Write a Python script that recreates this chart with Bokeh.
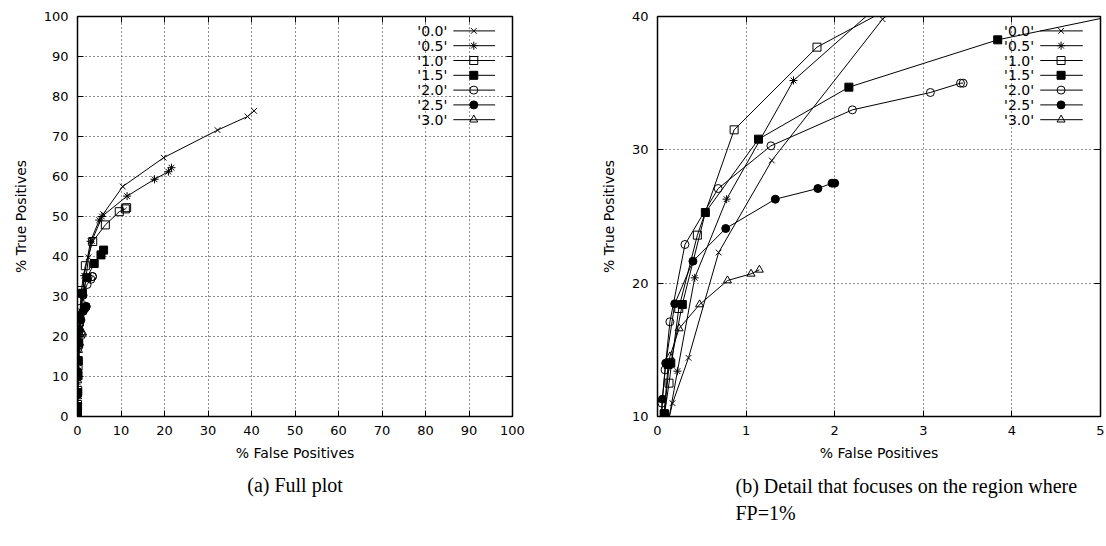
from bokeh.plotting import figure
from bokeh.layouts import row
from bokeh.models import Range1d, LinearAxis, FixedTicker, Title
from bokeh.embed import file_html
from bokeh.resources import INLINE
from bokeh.core.properties import value

# ---------------- data ----------------
series_names = ["'0.0'", "'0.5'", "'1.0'", "'1.5'", "'2.0'", "'2.5'", "'3.0'"]

fp_00 = [0.0, 0.01, 0.03, 0.08, 0.17, 0.35, 0.69, 1.29, 2.54, 3.3, 5.9, 10.4, 19.8, 32.2, 39.1, 40.6]
tp_00 = [0.5, 2.5, 5.5, 8.5, 11.0, 14.4, 22.3, 29.2, 39.8, 43.9, 50.6, 57.5, 64.7, 71.6, 75.0, 76.4]

fp_05 = [0.0, 0.02, 0.05, 0.12, 0.225, 0.42, 0.78, 1.535, 3.0, 5.0, 5.6, 11.4, 17.7, 20.9, 21.6]
tp_05 = [0.5, 2.5, 6.0, 9.5, 13.4, 20.4, 26.3, 35.2, 43.8, 49.1, 50.0, 55.1, 59.3, 61.2, 62.2]

fp_10 = [0.0, 0.01, 0.04, 0.08, 0.13, 0.24, 0.45, 0.865, 1.8, 3.5, 6.4, 9.6, 11.0, 11.3]
tp_10 = [0.5, 3.0, 6.5, 10.2, 12.5, 18.1, 23.6, 31.5, 37.7, 43.75, 47.9, 51.2, 51.9, 52.2]

fp_15 = [0.0, 0.01, 0.03, 0.075, 0.12, 0.15, 0.28, 0.54, 1.14, 2.16, 3.84, 5.4, 6.0]
tp_15 = [0.5, 2.5, 6.0, 10.2, 13.9, 14.0, 18.4, 25.3, 30.8, 34.7, 38.25, 40.4, 41.6]

fp_20 = [0.0, 0.01, 0.02, 0.05, 0.085, 0.14, 0.31, 0.685, 1.28, 2.2, 3.08, 3.42, 3.45]
tp_20 = [0.5, 2.5, 6.0, 11.0, 13.5, 17.1, 22.9, 27.1, 30.3, 33.0, 34.3, 35.0, 35.0]

fp_25 = [0.0, 0.01, 0.03, 0.056, 0.093, 0.195, 0.40, 0.77, 1.33, 1.81, 1.97, 2.0]
tp_25 = [0.5, 2.0, 5.5, 11.3, 14.0, 18.45, 21.65, 24.1, 26.3, 27.1, 27.5, 27.5]

fp_30 = [0.0, 0.01, 0.03, 0.06, 0.14, 0.244, 0.475, 0.79, 1.056, 1.15]
tp_30 = [0.5, 2.0, 5.0, 9.0, 14.5, 16.6, 18.4, 20.2, 20.7, 21.0]

full_x_ticks = [0, 10, 20, 30, 40, 50, 60, 70, 80, 90, 100]
full_y_ticks = [0, 10, 20, 30, 40, 50, 60, 70, 80, 90, 100]
detail_x_ticks = [0, 1, 2, 3, 4, 5]
detail_y_ticks = [10, 20, 30, 40]

x_label = "% False Positives"
y_label = "% True Positives"
caption_a = "(a) Full plot"
caption_b = "(b) Detail that focuses on the region where\nFP=1%"

all_fp = [fp_00, fp_05, fp_10, fp_15, fp_20, fp_25, fp_30]
all_tp = [tp_00, tp_05, tp_10, tp_15, tp_20, tp_25, tp_30]

# ---------------- styles ----------------
markers = ["x", "asterisk", "square", "square", "circle", "circle", "triangle"]
fills = [None, None, None, "black", None, "black", None]
msize = 8
TICK_FONT = "DejaVu Sans"
TICK_SIZE = "13px"
CAP_FONT = "Liberation Serif"
CAP_SIZE = "20px"


def make_fig(xr, yr, xticks, yticks, width, bl, br):
    p = figure(width=width, height=546, x_range=Range1d(*xr), y_range=Range1d(*yr),
               output_backend="svg", toolbar_location=None,
               min_border_left=bl, min_border_right=br, min_border_top=16, min_border_bottom=130,
               background_fill_color="white", border_fill_color="white")
    p.outline_line_color = "black"
    p.outline_line_width = 1.5
    xa = p.below[0]
    ya = p.left[0]
    xa.ticker = FixedTicker(ticks=xticks)
    ya.ticker = FixedTicker(ticks=yticks)
    for ax in (xa, ya):
        ax.major_tick_in = 6
        ax.major_tick_out = 0
        ax.minor_tick_line_color = None
        ax.axis_line_color = "black"
        ax.major_tick_line_color = "black"
        ax.major_label_text_font = TICK_FONT
        ax.major_label_text_font_size = TICK_SIZE
        ax.major_label_text_color = "black"
        ax.axis_label_text_font = TICK_FONT
        ax.axis_label_text_font_size = "14px"
        ax.axis_label_text_font_style = "normal"
        ax.axis_label_text_color = "black"
    xa.axis_label = x_label
    ya.axis_label = y_label
    xa.major_label_standoff = 9
    xa.axis_label_standoff = 7
    ya.major_label_standoff = 9
    ya.axis_label_standoff = 12
    # mirror ticks (no labels)
    for loc, tk in (("above", xticks), ("right", yticks)):
        m = LinearAxis(ticker=FixedTicker(ticks=tk),
                       major_label_overrides={t: "" for t in tk},
                       axis_line_color=None, major_tick_in=6, major_tick_out=0,
                       minor_tick_line_color=None, major_label_standoff=0,
                       major_tick_line_color="black")
        p.add_layout(m, loc)
    p.xgrid.ticker = FixedTicker(ticks=xticks)
    p.ygrid.ticker = FixedTicker(ticks=yticks)
    for g in (p.xgrid, p.ygrid):
        g.grid_line_color = "#222222"
        g.grid_line_dash = "1 3"
        g.grid_line_width = 1

    for fp, tp, mk, fc in zip(all_fp, all_tp, markers, fills):
        p.line(fp, tp, line_color="black", line_width=1)
        p.scatter(fp, tp, marker=mk, size=msize, line_color="black",
                  fill_color=fc, line_width=1)

    # gnuplot-style key: label, then line sample with point
    x0, x1 = xr
    y0, y1 = yr
    fx = lambda f: x0 + f * (x1 - x0)
    fy = lambda f: y0 + f * (y1 - y0)
    for i, (name, mk, fc) in enumerate(zip(series_names, markers, fills)):
        yy = fy(0.964 - 0.037 * i)
        p.text([fx(0.85)], [yy], text=[name], text_align="right", text_baseline="middle",
               text_font=value(TICK_FONT), text_font_size=value("14px"), text_color="black")
        p.line([fx(0.864), fx(0.96)], [yy, yy], line_color="black", line_width=1)
        p.scatter([fx(0.911)], [yy], marker=mk, size=msize, line_color="black",
                  fill_color=fc, line_width=1)
    return p


def caption(text, align, offset, standoff):
    return Title(text=text, align=align, offset=offset, standoff=standoff,
                 text_font=CAP_FONT, text_font_size=CAP_SIZE, text_font_style="normal",
                 text_color="black", text_line_height=1.25)


left = make_fig((0, 100), (0, 100), full_x_ticks, full_y_ticks, 588, 77, 76)
left.add_layout(caption(caption_a, "center", 0, 17), "below")

right = make_fig((0, 5), (10, 40), detail_x_ticks, detail_y_ticks, 518, 69, 6)
right.add_layout(caption(caption_b, "left", 78, 17), "below")

layout = row(left, right)
open("out.html", "w").write(file_html(layout, INLINE))
